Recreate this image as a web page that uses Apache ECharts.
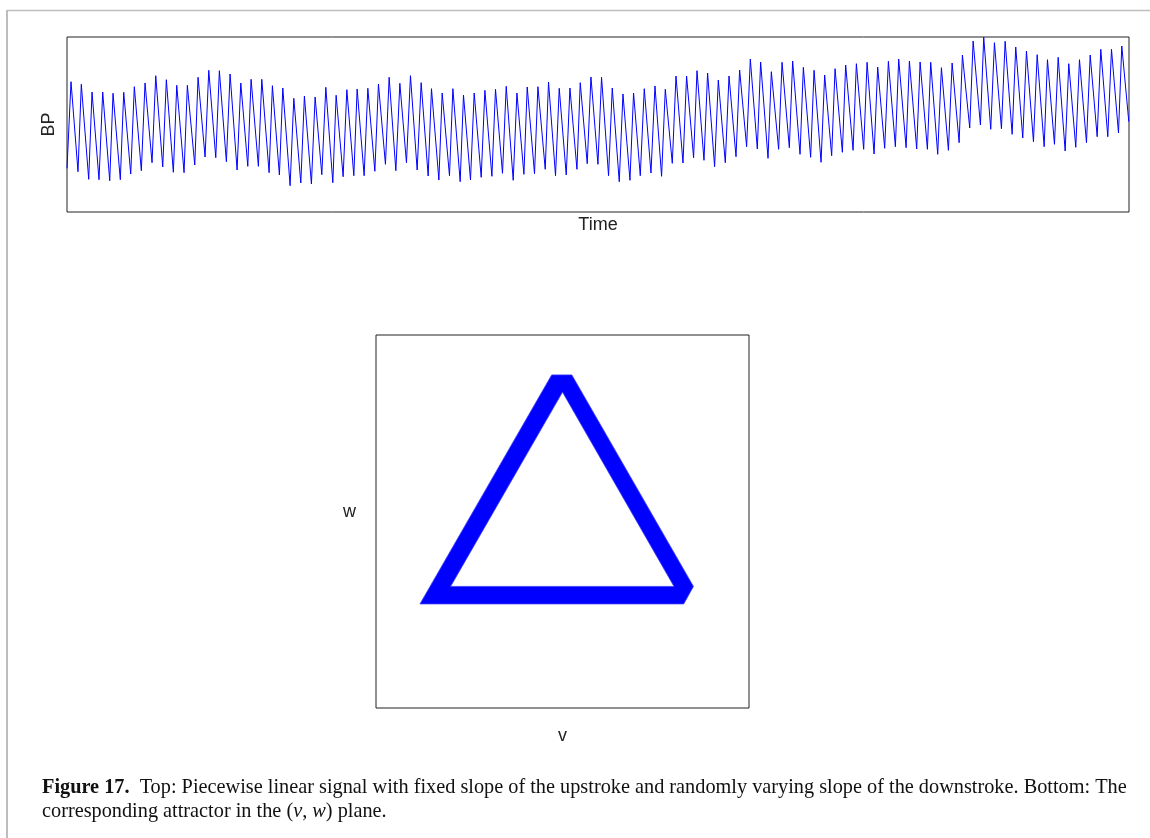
<!DOCTYPE html>
<html>
<head>
<meta charset="utf-8">
<style>
  html, body { margin: 0; padding: 0; background: #ffffff; }
  #chart { width: 1150px; height: 838px; }
</style>
<script src="https://cdn.jsdelivr.net/npm/echarts@6/dist/echarts.min.js"></script>
</head>
<body>
<div id="chart"></div>
<script>
// ---- Top panel: piecewise linear BP signal (time in arbitrary units, BP in arbitrary units)
const startPoint = [0, 43.7];
const endPoint = [1061.3, 90.3];

const peakT = [4,14.3,25,35.7,46,56.7,67.3,78,88.7,99.3,109.7,120.3,131,141.7,152.3,163,173.7,184,194.7,205.3,215.7,226.7,237.3,248,258.7,269,279.7,290,300.7,311.3,322,332.7,343.3,
  354,364.3,375,385.7,396.3,407,417.7,428.3,439,449.7,460,470.7,481.3,492,502.7,513,523.7,534.3,545,555.7,566.3,577,587.7,598,608.7,619.3,629.7,640.3,651,661.7,672.3,683,693.3,
  704,714.7,725.3,736,746.7,757.3,767.7,778.3,789,799.7,810.3,821,831.3,842,852.7,863.3,874,884.7,895,905.7,916.3,927,937.7,948.3,959,969.7,980,990.7,1001.3,1012,1022.7,1033.3,1044,1054.3];

const peakBP = [130.3,127.7,120,120,118.7,119.7,125.3,129,136.3,132.3,126.7,126.7,134.7,141.7,141.3,138,129,132.7,132.7,126.3,124,113.7,116,115,124.7,116.7,122.3,123,123.7,128,134.7,128.7,136.3,
  129.3,123.3,119,123.3,117,119,121.7,122.7,125.7,119,125,125.3,130,123.7,124,129.3,135,134.7,124,118,119,123.3,126,122.7,136,136,141.3,139,132,136,142,153,150,
  140.3,149.7,151,144.7,141.7,137,143.3,147,148.3,149.7,145,150.7,153,151,150,149.7,144.3,149,157,171,174.7,169.3,170.7,165,161,157.3,152.3,154.7,148.3,152.3,157,162.7,162.7,166];

const troughT = [11,21.7,32,42.7,53.3,63.7,74.3,85,95.7,106.3,117,127.7,138,148.7,159.3,170,180.7,191.3,202,212.3,223,233.7,244.3,254.7,265.7,276,286.7,297,307.7,318.3,328.7,339.3,350,
  361,371.7,382.3,393,403.3,414,424.7,435.3,446,456.7,467.3,478,488.3,499,509.7,520,530.7,541.3,552,562.7,573,583.7,594.3,605,615.7,626.3,636.7,647.3,658,668.7,679.3,690,700.7,
  711.3,722,732.7,743.3,753.7,764.3,775,785.7,796.3,806.7,817.3,828,838.7,849.3,860,870.3,881,891.7,902.3,913,923.3,934,944.7,955.3,966,976.7,987,997.7,1008.3,1019,1029.7,1040.3,1051];

const troughBP = [40.3,32.7,32.3,31.3,32.3,38,41.3,49.3,45,39.7,39.3,47,55,54.3,50.3,42,45.7,45.7,39.3,37,26.3,29,28,37.3,29.3,35.3,36.3,36.3,40.7,47.7,41.3,49.3,42,
  36,32,36.3,30.3,32,34.7,35.7,38.7,31.7,37.7,38.3,42.7,36.3,37,42.7,48.3,47.7,36.3,30.3,31.7,36.3,39,35.7,48.7,49,54.3,51.7,45.3,49.3,55.3,65.3,63,53.7,
  62.7,64.3,57.7,54.7,49.7,56.3,59.7,61.7,62.7,58,63.7,65.3,64.3,63,62.7,57.7,61.7,69.3,84,87,82.7,83.3,77.7,74,70.3,65.3,67.7,61,64.7,69.3,75.3,75.3,79];

// ---- Bottom panel: attractor band in the (v, w) plane (outer and inner boundary)
const outerV = [0.471, 0.525, 0.851, 0.825, 0.118];
const outerW = [0.893, 0.893, 0.326, 0.279, 0.279];
const innerV = [0.500, 0.799, 0.200];
const innerW = [0.847, 0.326, 0.326];

// ---- Texts
const captionLine1 = '{b|Figure 17.}  Top: Piecewise linear signal with fixed slope of the upstroke and randomly varying slope of the downstroke. Bottom: The';
const captionLine2 = 'corresponding attractor in the ({i|v}, {i|w}) plane.';

// Build signal from the read peaks/troughs
const signal = [startPoint];
for (let i = 0; i < peakT.length; i++) {
  signal.push([peakT[i], peakBP[i]]);
  if (i < troughT.length) signal.push([troughT[i], troughBP[i]]);
}
signal.push(endPoint);

const hidden = {
  axisLine: { show: false }, axisTick: { show: false },
  axisLabel: { show: false }, splitLine: { show: false }
};
const nameFont = { fontFamily: 'Liberation Sans', fontSize: 18, color: '#222' };
const capFont = 'Liberation Serif';
const capSize = 20.3;

const chart = echarts.init(document.getElementById('chart'), null, { renderer: 'canvas' });
chart.setOption({
  animation: false,
  backgroundColor: '#ffffff',
  grid: [
    { left: 67, top: 37, width: 1062, height: 175, show: true, borderColor: '#222', borderWidth: 1, backgroundColor: 'transparent' },
    { left: 376, top: 335, width: 373, height: 373, show: true, borderColor: '#222', borderWidth: 1, backgroundColor: 'transparent' }
  ],
  xAxis: [
    Object.assign({ gridIndex: 0, type: 'value', min: 0, max: 1061.5, name: 'Time', nameLocation: 'middle', nameGap: 4, nameTextStyle: nameFont }, hidden),
    Object.assign({ gridIndex: 1, type: 'value', min: 0, max: 1, name: 'v', nameLocation: 'middle', nameGap: 19, nameTextStyle: nameFont }, hidden)
  ],
  yAxis: [
    Object.assign({ gridIndex: 0, type: 'value', min: 0, max: 175, name: 'BP', nameLocation: 'middle', nameRotate: 90, nameGap: 9, nameTextStyle: nameFont }, hidden),
    Object.assign({ gridIndex: 1, type: 'value', min: 0, max: 1, name: 'w', nameLocation: 'middle', nameRotate: 0, nameGap: 20,
      nameTextStyle: Object.assign({}, nameFont, { verticalAlign: 'bottom' }) }, hidden)
  ],
  series: [
    {
      type: 'line', xAxisIndex: 0, yAxisIndex: 0, data: signal,
      showSymbol: false, symbol: 'none',
      lineStyle: { color: '#0000ff', width: 1 }, clip: true
    },
    {
      type: 'custom', xAxisIndex: 1, yAxisIndex: 1,
      data: [[outerV[0], outerW[0]]],
      renderItem: function (params, api) {
        const outer = outerV.map((v, i) => api.coord([v, outerW[i]]));
        const inner = innerV.map((v, i) => api.coord([v, innerW[i]]));
        return {
          type: 'group',
          children: [
            { type: 'polygon', shape: { points: outer }, style: { fill: '#0000ff', stroke: '#3a3aff', lineWidth: 0.8 } },
            { type: 'polygon', shape: { points: inner }, style: { fill: '#ffffff', stroke: '#3a3aff', lineWidth: 0.8 } }
          ]
        };
      }
    }
  ],
  graphic: [
    { type: 'line', shape: { x1: 7, y1: 10.5, x2: 1150, y2: 10.5 }, style: { stroke: '#bdbdbd', lineWidth: 1.5 }, silent: true },
    { type: 'line', shape: { x1: 7, y1: 10, x2: 7, y2: 838 }, style: { stroke: '#bdbdbd', lineWidth: 2 }, silent: true },
    {
      type: 'text', left: 42, top: 778,
      style: {
        text: captionLine1, fontFamily: capFont, fontSize: capSize, fill: '#111',
        rich: { b: { fontFamily: capFont, fontSize: capSize, fontWeight: 'bold', fill: '#111' } }
      }
    },
    {
      type: 'text', left: 42, top: 802,
      style: {
        text: captionLine2, fontFamily: capFont, fontSize: capSize, fill: '#111',
        rich: { i: { fontFamily: capFont, fontSize: capSize, fontStyle: 'italic', fill: '#111' } }
      }
    }
  ]
});
</script>
</body>
</html>
